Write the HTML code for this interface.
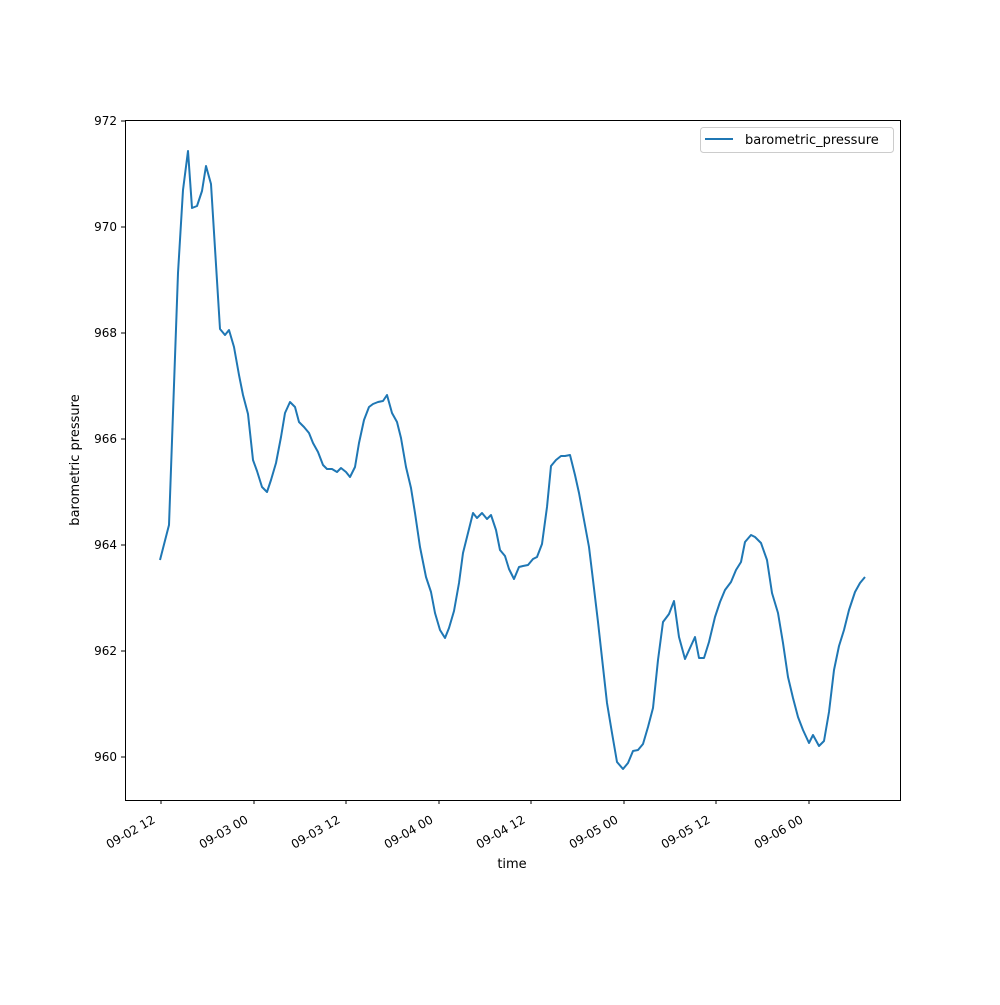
<!DOCTYPE html>
<html><head><meta charset="utf-8"><style>body{margin:0;background:#fff}</style></head><body>
<svg width="1000" height="1000" xmlns="http://www.w3.org/2000/svg" font-family="'DejaVu Sans', 'Liberation Sans', sans-serif" font-size="13">
<rect width="1000" height="1000" fill="#fff"/>
<polyline fill="none" stroke="#1f77b4" stroke-width="2" stroke-linejoin="round" points="160,560 169,525 178,273 183,190 188,151 192,208 197,206 202,191 206,166 211,184 220,329 225,335 229,330 234,347 239,375 243,395 248,414 253,460 257,471 262,487 267,492 271,480 276,463 281,437 285,413 290,402 295,407 299,422 304,427 309,433 313,443 318,452 323,465 327,469 332,469 337,472 341,468 346,472 350,477 355,467 359,443 364,420 369,407 373,404 378,402 383,401 387,395 392,413 397,422 401,438 406,467 411,488 415,513 420,547 426,577 431,592 435,613 440,630 445,638 449,628 454,611 459,583 463,553 468,533 473,513 477,518 482,513 487,519 491,515 496,530 500,550 505,556 509,569 514,579 519,567 523,566 528,565 533,559 537,557 542,544 547,507 551,466 556,460 561,456 565,456 570,455 575,475 579,493 584,520 589,547 593,580 598,622 603,667 607,703 612,733 617,762 623,769 628,763 633,751 638,750 643,744 648,727 653,708 658,660 663,622 669,614 674,601 679,637 685,659 690,648 695,637 699,658 704,658 709,642 715,617 720,602 725,590 731,582 736,570 741,562 745,542 751,535 755,537 761,543 767,560 772,593 778,613 783,643 788,677 793,698 798,717 803,730 809,743 813,735 819,746 824,741 829,712 834,670 839,646 844,630 849,610 855,592 860,583 865,577"/>
<rect x="125.5" y="120.5" width="775" height="680" fill="none" stroke="#000" stroke-width="1"/>
<g stroke="#000">
<line x1="125" x2="121" y1="757" y2="757"/><line x1="125" x2="121" y1="651" y2="651"/><line x1="125" x2="121" y1="545" y2="545"/><line x1="125" x2="121" y1="439" y2="439"/><line x1="125" x2="121" y1="333" y2="333"/><line x1="125" x2="121" y1="227" y2="227"/><line x1="125" x2="121" y1="121" y2="121"/>
<line y1="800" y2="804" x1="161" x2="161"/><line y1="800" y2="804" x1="254" x2="254"/><line y1="800" y2="804" x1="346" x2="346"/><line y1="800" y2="804" x1="439" x2="439"/><line y1="800" y2="804" x1="531" x2="531"/><line y1="800" y2="804" x1="624" x2="624"/><line y1="800" y2="804" x1="716" x2="716"/><line y1="800" y2="804" x1="809" x2="809"/>
</g>
<g text-anchor="end" font-size="12">
<text x="117" y="761">960</text><text x="117" y="655">962</text><text x="117" y="549">964</text><text x="117" y="443">966</text><text x="117" y="337">968</text><text x="117" y="231">970</text><text x="117" y="125">972</text>
<text transform="translate(156,822) rotate(-30)">09-02 12</text>
<text transform="translate(249,822) rotate(-30)">09-03 00</text>
<text transform="translate(341,822) rotate(-30)">09-03 12</text>
<text transform="translate(434,822) rotate(-30)">09-04 00</text>
<text transform="translate(526,822) rotate(-30)">09-04 12</text>
<text transform="translate(619,822) rotate(-30)">09-05 00</text>
<text transform="translate(711,822) rotate(-30)">09-05 12</text>
<text transform="translate(804,822) rotate(-30)">09-06 00</text>
</g>
<text x="512" y="868" text-anchor="middle" font-size="13">time</text>
<text transform="translate(79,460) rotate(-90)" text-anchor="middle" font-size="13">barometric pressure</text>
<rect x="700.5" y="127.5" width="193" height="25" rx="3" fill="#fff" stroke="#ccc"/>
<line x1="705" x2="733" y1="139" y2="139" stroke="#1f77b4" stroke-width="2"/>
<text x="745" y="144" font-size="13">barometric_pressure</text>
</svg>
</body></html>
